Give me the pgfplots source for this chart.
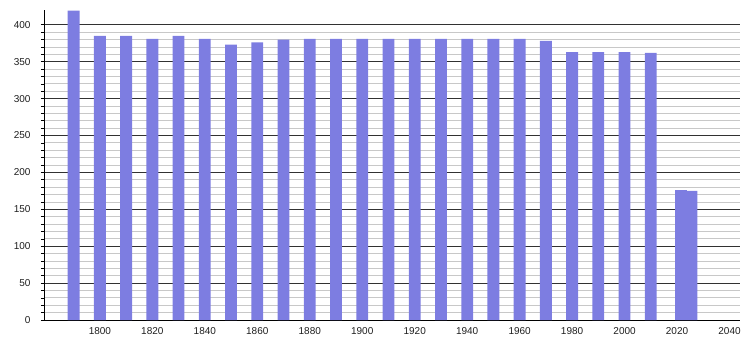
\documentclass[border=0pt]{standalone}
\usepackage{fontspec}
\setmainfont{Liberation Sans}
\usepackage{pgfplots}
\pgfplotsset{compat=1.18}
\definecolor{barc}{RGB}{125,125,225}
\definecolor{majg}{RGB}{50,50,50}
\definecolor{ming}{RGB}{200,200,200}
\definecolor{labc}{RGB}{30,30,30}
\begin{document}
\begin{tikzpicture}[x=1bp,y=1bp]
\path (-44bp,-20bp) rectangle (706bp,320bp);
\begin{axis}[
  at={(0,0)}, anchor=south west,
  width=696bp, height=310bp, scale only axis,
  xmin=1778.7, xmax=2044, ymin=0, ymax=420,
  axis x line*=bottom, axis y line*=left,
  axis line style={black, line width=0.8bp, -},
  xtick={1800,1820,...,2040},
  ytick={0,50,...,400},
  minor y tick num=4,
  ymajorgrids, yminorgrids,
  major grid style={majg, line width=0.8bp},
  minor grid style={ming, line width=0.8bp},
  tick align=outside,
  major tick length=3bp, minor tick length=3bp,
  major x tick style={draw=none},
  y tick style={black, line width=0.6bp},
  /pgf/number format/assume math mode=true,
  /pgf/number format/1000 sep={},
  tick label style={font=\fontsize{10bp}{12bp}\selectfont, text=labc},
  yticklabel style={xshift=-7bp},
  xticklabel style={yshift=-1bp},
  ybar, bar width=4.5,
]
\addplot[fill=barc, draw=none] coordinates {
(1790,419) (1800,385) (1810,385) (1820,381) (1830,385) (1840,381)
(1850,373) (1860,376) (1870,380) (1880,381) (1890,381) (1900,381)
(1910,381) (1920,381) (1930,381) (1940,381) (1950,381) (1960,381)
(1970,378) (1980,363) (1990,363) (2000,363) (2010,362)
(2021.5,176) (2025.5,175)
};
\end{axis}
\end{tikzpicture}
\end{document}
